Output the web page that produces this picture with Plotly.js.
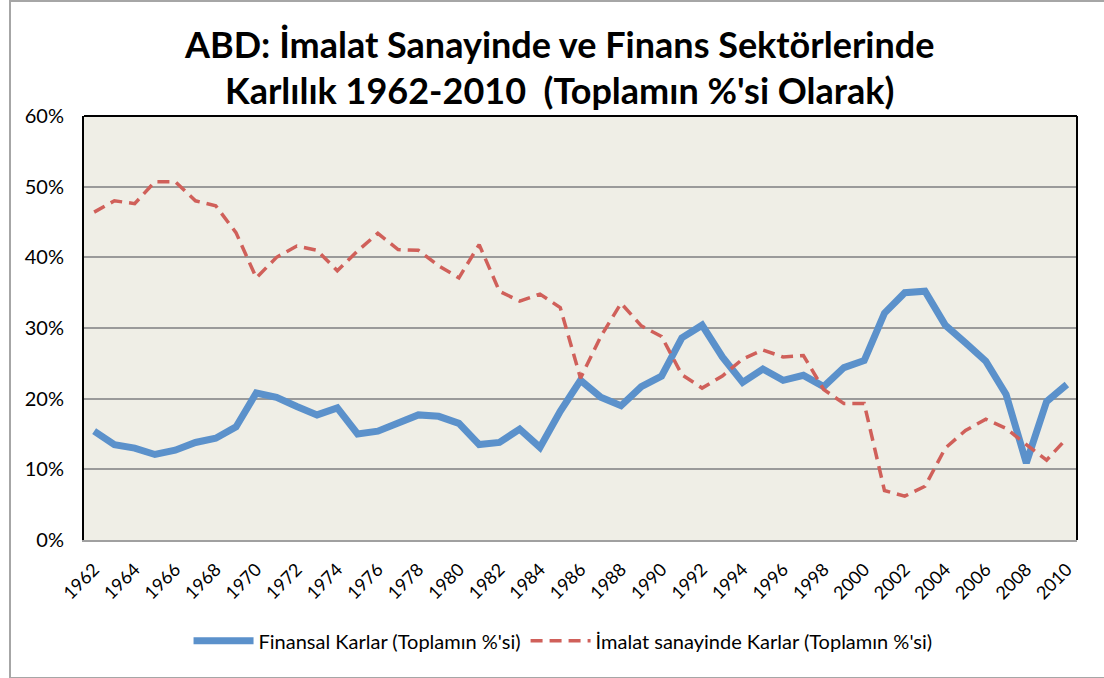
<!DOCTYPE html>
<html>
<head>
<meta charset="utf-8">
<script src="https://cdn.plot.ly/plotly-3.0.1.min.js"></script>
<style>
html,body{margin:0;padding:0;background:#fff;}
#wrap{position:relative;width:1104px;height:678px;}
#chart{width:1104px;height:678px;}
#frame{position:absolute;left:9px;top:0px;width:1100px;height:675px;border:2px solid #a6a6a6;border-right:none;pointer-events:none;}
</style>
</head>
<body>
<div id="wrap"><div id="chart"></div><div id="frame"></div></div>
<script>
const years = [];
for (let y = 1962; y <= 2010; y++) years.push(y);

const finansal = [15.4,13.5,13.0,12.1,12.7,13.8,14.4,16.0,20.8,20.2,18.9,17.7,18.7,15.0,15.4,16.5,17.7,17.5,16.5,13.5,13.8,15.7,13.1,18.2,22.6,20.2,19.0,21.7,23.2,28.6,30.4,25.9,22.3,24.2,22.6,23.3,21.7,24.4,25.4,32.1,35.0,35.2,30.4,27.9,25.3,20.6,10.9,19.6,22.0];

const imalat = [46.4,48.0,47.6,50.7,50.7,48.0,47.3,43.5,37.1,40.0,41.6,41.0,38.1,40.9,43.4,41.1,41.0,38.8,37.1,41.8,35.2,33.8,34.8,32.9,22.9,28.8,33.5,30.3,28.8,23.4,21.5,23.2,25.6,26.9,25.9,26.1,21.3,19.3,19.3,7.0,6.2,7.6,13.0,15.5,17.1,15.8,13.5,11.3,14.4];

const seriesNames = ["Finansal Karlar (Toplamın %'si)", "İmalat sanayinde Karlar (Toplamın %'si)"];
const titleText = "ABD: İmalat Sanayinde ve Finans Sektörlerinde<br>Karlılık 1962-2010\u00a0\u00a0(Toplamın %'si Olarak)";

const FONT = "Lato, 'Open Sans', sans-serif";

const traces = [
  {x: years, y: finansal, name: seriesNames[0], type: 'scatter', mode: 'lines',
   line: {color: '#5b91cb', width: 7}},
  {x: years, y: imalat, name: seriesNames[1], type: 'scatter', mode: 'lines',
   line: {color: '#d0605a', width: 3.5, dash: '12px,7px'}}
];

const layout = {
  width: 1104, height: 678,
  margin: {l: 84, r: 27, t: 116, b: 138},
  paper_bgcolor: '#ffffff',
  plot_bgcolor: '#efeee6',
  font: {family: FONT, color: '#000', size: 18},
  title: {text: titleText, x: 0.507, xanchor: 'center', xref: 'container',
          y: 0.915, yanchor: 'top', yref: 'container',
          font: {family: FONT, size: 36, color: '#000', weight: 'bold'}},
  xaxis: {
    range: [1961.5, 2010.5], tickmode: 'linear', tick0: 1962, dtick: 2,
    tickangle: -45, showgrid: false, zeroline: false,
    showline: true, linecolor: '#a0a0a0', linewidth: 2,
    ticks: '', tickfont: {size: 18, family: FONT}, ticklabelstandoff: 10
  },
  yaxis: {
    range: [0, 60], dtick: 10, ticksuffix: '%',
    showgrid: true, gridcolor: '#9a9a9a', gridwidth: 2,
    zeroline: false, showline: true, linecolor: '#000', linewidth: 2,
    mirror: false, ticks: '', tickfont: {size: 20, family: FONT}, ticklabelstandoff: 14
  },
  shapes: [
    {type: 'line', xref: 'paper', yref: 'paper', x0: 0, x1: 1, y0: 1, y1: 1,
     line: {color: '#000', width: 2}},
    {type: 'line', xref: 'paper', yref: 'paper', x0: 1, x1: 1, y0: 0, y1: 1,
     line: {color: '#000', width: 2}}
  ],
  showlegend: true,
  legend: {orientation: 'h', x: 0.51, xanchor: 'center', xref: 'container',
           y: 0.055, yanchor: 'middle', yref: 'container',
           font: {size: 20, family: FONT}, itemwidth: 60,
           bgcolor: 'rgba(0,0,0,0)'}
};

Plotly.newPlot('chart', traces, layout, {displayModeBar: false, staticPlot: true});
</script>
</body>
</html>
